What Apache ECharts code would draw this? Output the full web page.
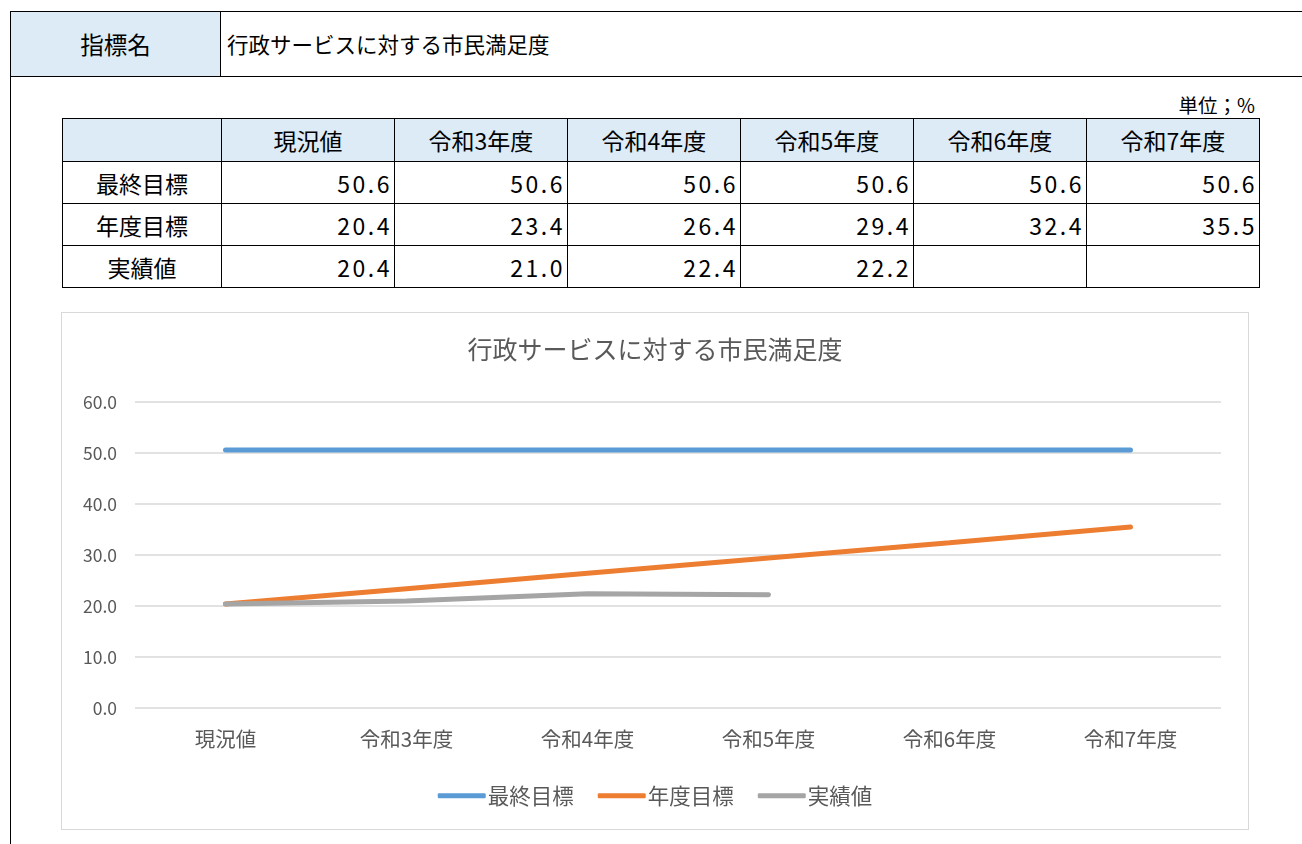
<!DOCTYPE html>
<html><head><meta charset="utf-8">
<script src="https://cdn.jsdelivr.net/npm/echarts@6/dist/echarts.min.js"></script>
<style>
html,body{margin:0;padding:0;background:#fff;font-family:"Noto Sans CJK JP","Noto Sans",sans-serif;}
#page{position:relative;width:1302px;height:844px;overflow:hidden;}
#hdr{position:absolute;left:10px;top:11px;width:1292px;height:64px;border-top:1px solid #000;border-bottom:1px solid #000;}
#hdrL{position:absolute;left:0;top:0;width:211px;height:64px;background:#DDEBF7;border-left:1px solid #000;border-right:1px solid #000;box-sizing:border-box;font-size:23.5px;line-height:64px;text-align:center;color:#000;}
#hdrR{position:absolute;left:217px;top:0;height:64px;font-size:21.5px;line-height:64px;color:#000;}
#leftline{position:absolute;left:10px;top:75px;width:1px;height:769px;background:#000;}
#unit{position:absolute;right:47px;top:90px;font-size:19.5px;color:#000;}
table{position:absolute;left:62px;top:118px;border-collapse:collapse;font-size:23px;}
td{border:1px solid #000;height:42px;padding:0 4px;box-sizing:border-box;line-height:40px;}
th{border:1px solid #000;height:42px;font-weight:normal;background:#DDEBF7;box-sizing:border-box;line-height:40px;}
td.lab{text-align:center;}
td.num{text-align:right;letter-spacing:2.5px;padding-right:2px;}
#chartbox{position:absolute;left:61px;top:312px;width:1188px;height:518px;border:1px solid #d9d9d9;box-sizing:border-box;}
#chart{width:1186px;height:516px;}
</style></head>
<body><div id="page">
<div id="hdr"><div id="hdrL">指標名</div><div id="hdrR">行政サービスに対する市民満足度</div></div>
<div id="leftline"></div>
<div id="unit">単位；%</div>
<table id="tbl"></table>
<div id="chartbox"><div id="chart"></div></div>
</div>
<script>
const categories = ["現況値","令和3年度","令和4年度","令和5年度","令和6年度","令和7年度"];
const seriesNames = ["最終目標","年度目標","実績値"];
const finalTarget = [50.6,50.6,50.6,50.6,50.6,50.6];
const yearTarget = [20.4,23.4,26.4,29.4,32.4,35.5];
const actual = [20.4,21.0,22.4,22.2,null,null];
const chartTitle = "行政サービスに対する市民満足度";

// table
const colW = [159,173,173,173,173,173,173];
const tbl = document.getElementById('tbl');
let html = '<tr>';
['', ...categories].forEach((c,i)=>{ html += `<th style="width:${colW[i]}px">${c}</th>`; });
html += '</tr>';
[finalTarget, yearTarget, actual].forEach((arr,r)=>{
  html += `<tr><td class="lab">${seriesNames[r]}</td>`;
  arr.forEach(v=>{ html += `<td class="num">${v==null?'':v.toFixed(1)}</td>`; });
  html += '</tr>';
});
tbl.innerHTML = html;

const colors = ['#5B9BD5','#ED7D31','#A5A5A5'];
const chart = echarts.init(document.getElementById('chart'));
const font = '"Noto Sans CJK JP", sans-serif';
chart.setOption({
  animation:false,
  color: colors,
  title:{text:chartTitle,left:'center',top:19,textStyle:{fontSize:25,fontWeight:'normal',color:'#595959',fontFamily:font}},
  grid:{left:73,right:27,top:89,height:306},
  legend:{data:seriesNames,top:467,left:'center',icon:'roundRect',itemWidth:48,itemHeight:5,itemGap:24,
    textStyle:{fontSize:21.5,color:'#595959',fontFamily:font,padding:[0,0,0,-3]}},
  xAxis:{type:'category',data:categories,boundaryGap:true,
    axisLine:{show:false},axisTick:{show:false},
    axisLabel:{fontSize:20.5,color:'#595959',fontFamily:font,margin:21}},
  yAxis:{type:'value',min:0,max:60,interval:10,
    axisLabel:{fontSize:17.5,color:'#595959',fontFamily:font,margin:18,formatter:v=>v.toFixed(1)},
    splitLine:{lineStyle:{color:'#d9d9d9',width:1.5}},axisLine:{show:false},axisTick:{show:false}},
  series:[
    {name:seriesNames[0],type:'line',data:finalTarget,symbol:'none',lineStyle:{width:5,cap:'round'}},
    {name:seriesNames[1],type:'line',data:yearTarget,symbol:'none',lineStyle:{width:5,cap:'round'}},
    {name:seriesNames[2],type:'line',data:actual,symbol:'none',lineStyle:{width:5,cap:'round'}}
  ]
});
</script>
</body></html>
